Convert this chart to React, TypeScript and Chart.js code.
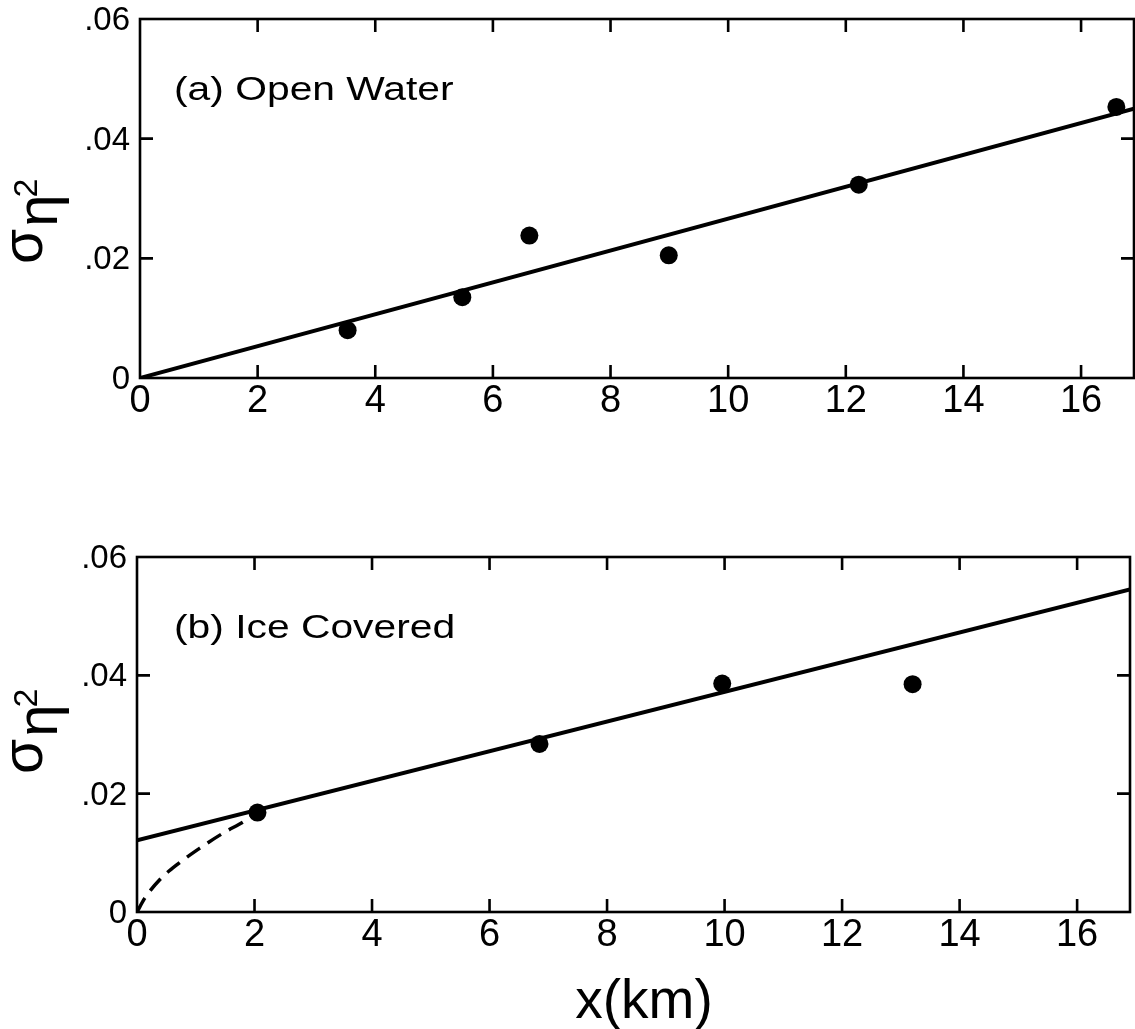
import React, { useEffect, useRef } from 'react';
import { Chart, registerables } from 'chart.js';

Chart.register(...registerables);

// ---- Data ----
const OPEN_X = [3.53, 5.48, 6.62, 8.99, 12.22, 16.6];
const OPEN_Y = [0.008, 0.0135, 0.0238, 0.0205, 0.0323, 0.0453];
const OPEN_FIT_X = [0, 16.9];
const OPEN_FIT_Y = [0, 0.045];

const ICE_X = [2.05, 6.85, 9.96, 13.2];
const ICE_Y = [0.0168, 0.0284, 0.0386, 0.0385];
const ICE_FIT_X = [0, 16.9];
const ICE_FIT_Y = [0.0121, 0.0545];
const ICE_CURVE_X = [0, 0.13, 0.39, 0.72, 1.07, 1.46, 1.82, 2.05];
const ICE_CURVE_Y = [0, 0.0023, 0.0055, 0.0083, 0.0108, 0.0133, 0.0153, 0.0168];

const X_TICKS = [0, 2, 4, 6, 8, 10, 12, 14, 16];
const X_TICK_LABELS = ['0', '2', '4', '6', '8', '10', '12', '14', '16'];
const Y_TICKS = [0, 0.02, 0.04, 0.06];
const Y_TICK_LABELS = ['0', '.02', '.04', '.06'];
const X_MIN = 0;
const X_MAX = 16.9;
const Y_MIN = 0;
const Y_MAX = 0.06;

const PANEL_LABELS = ['(a) Open Water', '(b) Ice Covered'];
const X_TITLE = 'x(km)';

const FONT = '"Liberation Sans", Arial, Helvetica, sans-serif';
const W = 1135;

const toPts = (xs: number[], ys: number[]) => xs.map((x, i) => ({ x, y: ys[i] }));

type Panel = {
  top: number;
  height: number;
  area: { left: number; right: number; top: number; bottom: number };
  label: string;
  titleX: number;
  titleY: number;
  xTitle: boolean;
  datasets: any[];
};

const pointStyle = {
  showLine: false,
  pointRadius: 9,
  pointHoverRadius: 9,
  pointBackgroundColor: '#000',
  pointBorderColor: '#000',
  pointBorderWidth: 0,
};

const lineStyle = {
  showLine: true,
  pointRadius: 0,
  borderColor: '#000',
  borderWidth: 4,
  fill: false,
};

const PANELS: Panel[] = [
  {
    top: 0,
    height: 470,
    area: { left: 140, right: 1134, top: 19, bottom: 378 },
    label: PANEL_LABELS[0],
    titleX: 42,
    titleY: 264,
    xTitle: false,
    datasets: [
      { ...lineStyle, data: toPts(OPEN_FIT_X, OPEN_FIT_Y) },
      { ...pointStyle, data: toPts(OPEN_X, OPEN_Y) },
    ],
  },
  {
    top: 470,
    height: 559,
    area: { left: 137, right: 1130, top: 87, bottom: 442 },
    label: PANEL_LABELS[1],
    titleX: 42,
    titleY: 304,
    xTitle: true,
    datasets: [
      { ...lineStyle, data: toPts(ICE_FIT_X, ICE_FIT_Y) },
      {
        ...lineStyle,
        borderWidth: 3.5,
        borderDash: [16, 9],
        cubicInterpolationMode: 'monotone',
        data: toPts(ICE_CURVE_X, ICE_CURVE_Y),
      },
      { ...pointStyle, data: toPts(ICE_X, ICE_Y) },
    ],
  },
];

function drawYTitle(ctx: CanvasRenderingContext2D, x: number, y: number) {
  ctx.save();
  ctx.translate(x, y);
  ctx.rotate(-Math.PI / 2);
  ctx.fillStyle = '#000';
  ctx.textAlign = 'left';
  ctx.textBaseline = 'alphabetic';
  ctx.font = `57px ${FONT}`;
  ctx.fillText('σ', 0, 0);
  const sw = ctx.measureText('σ').width;
  ctx.font = `58px ${FONT}`;
  ctx.fillText('η', sw + 2, 15);
  const ew = ctx.measureText('η').width;
  ctx.font = `34px ${FONT}`;
  ctx.fillText('2', sw + ew - 1, -5);
  ctx.restore();
}

function drawWide(ctx: CanvasRenderingContext2D, text: string, x: number, y: number, sx: number) {
  ctx.save();
  ctx.translate(x, y);
  ctx.scale(sx, 1);
  ctx.fillText(text, 0, 0);
  ctx.restore();
}

function makeDecor(panel: Panel) {
  return {
    id: 'decor',
    afterDraw(chart: any) {
      const ctx: CanvasRenderingContext2D = chart.ctx;
      const { left, right, top, bottom } = chart.chartArea;
      const xs = chart.scales.x;
      const ys = chart.scales.y;
      ctx.save();
      ctx.strokeStyle = '#000';
      ctx.lineWidth = 2.6;
      ctx.strokeRect(left, top, right - left, bottom - top);
      const tl = 13;
      ctx.beginPath();
      X_TICKS.forEach((v) => {
        if (v === X_MIN) return;
        const px = xs.getPixelForValue(v);
        ctx.moveTo(px, bottom);
        ctx.lineTo(px, bottom - tl);
        ctx.moveTo(px, top);
        ctx.lineTo(px, top + tl);
      });
      Y_TICKS.forEach((v) => {
        if (v === Y_MIN || v === Y_MAX) return;
        const py = ys.getPixelForValue(v);
        ctx.moveTo(left, py);
        ctx.lineTo(left + tl, py);
        ctx.moveTo(right, py);
        ctx.lineTo(right - tl, py);
      });
      ctx.stroke();

      ctx.fillStyle = '#000';
      ctx.font = `34px ${FONT}`;
      ctx.textAlign = 'left';
      ctx.textBaseline = 'alphabetic';
      drawWide(ctx, panel.label, 174, top + 81, 1.2);

      drawYTitle(ctx, panel.titleX, panel.titleY);

      if (panel.xTitle) {
        ctx.font = `55px ${FONT}`;
        ctx.textAlign = 'center';
        ctx.textBaseline = 'alphabetic';
        ctx.fillText(X_TITLE, 644, 548);
      }
      ctx.restore();
    },
  };
}

function PanelChart({ panel }: { panel: Panel }) {
  const ref = useRef<HTMLCanvasElement | null>(null);
  useEffect(() => {
    if (!ref.current) return;
    const a = panel.area;
    const chart = new Chart(ref.current, {
      type: 'scatter',
      data: { datasets: panel.datasets },
      options: {
        animation: false,
        responsive: false,
        devicePixelRatio: 1,
        layout: { autoPadding: false, padding: { left: 0, top: a.top, right: W - a.right, bottom: 0 } },
        plugins: { legend: { display: false }, tooltip: { enabled: false }, title: { display: false } },
        scales: {
          x: {
            type: 'linear',
            min: X_MIN,
            max: X_MAX,
            grid: { display: false },
            border: { display: false },
            afterBuildTicks: (s: any) => {
              s.ticks = X_TICKS.map((v) => ({ value: v }));
            },
            afterFit: (s: any) => {
              s.height = panel.height - a.bottom;
              s.paddingLeft = 0;
              s.paddingRight = 0;
            },
            ticks: {
              autoSkip: false,
              maxRotation: 0,
              padding: -7,
              color: '#000',
              font: { family: FONT, size: 38 },
              callback: (v: any) => X_TICK_LABELS[X_TICKS.indexOf(Number(v))] ?? '',
            },
          },
          y: {
            type: 'linear',
            min: Y_MIN,
            max: Y_MAX,
            grid: { display: false },
            border: { display: false },
            afterBuildTicks: (s: any) => {
              s.ticks = Y_TICKS.map((v) => ({ value: v }));
            },
            afterFit: (s: any) => {
              s.width = a.left;
              s.paddingTop = 0;
              s.paddingBottom = 0;
            },
            ticks: {
              autoSkip: false,
              padding: 2,
              labelOffset: 2,
              color: '#000',
              font: { family: FONT, size: 33 },
              callback: (v: any) => {
                const i = Y_TICKS.findIndex((t) => Math.abs(t - Number(v)) < 1e-9);
                return i >= 0 ? Y_TICK_LABELS[i] : '';
              },
            },
          },
        },
      } as any,
      plugins: [makeDecor(panel)],
    });
    return () => chart.destroy();
  }, [panel]);
  return (
    <canvas
      ref={ref}
      width={W}
      height={panel.height}
      style={{ position: 'absolute', left: 0, top: panel.top, width: W, height: panel.height }}
    />
  );
}

export default function App() {
  return (
    <div
      style={{
        position: 'fixed',
        left: 0,
        top: 0,
        width: W,
        height: 1029,
        background: '#fff',
        overflow: 'hidden',
      }}
    >
      {PANELS.map((p, i) => (
        <PanelChart key={i} panel={p} />
      ))}
    </div>
  );
}
